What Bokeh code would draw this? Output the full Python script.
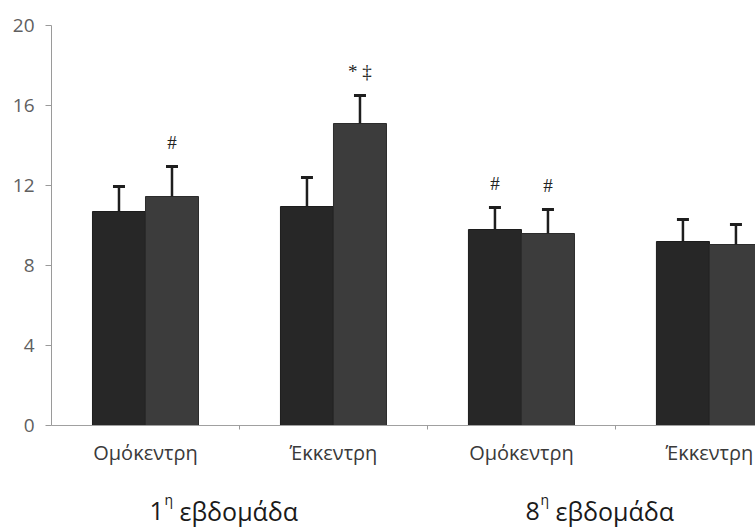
from bokeh.plotting import figure
from bokeh.layouts import column
from bokeh.models import Range1d, FixedTicker, ColumnDataSource, Whisker, TeeHead
from bokeh.transform import dodge
from bokeh.core.properties import value
from bokeh.embed import file_html
from bokeh.resources import INLINE

# ---- data ----
categories = ["Ομόκεντρη", "Έκκεντρη", "Ομόκεντρη", "Έκκεντρη"]
weeks = ["1", "8"]                 # each week spans two categories
week_sup = ["η", "η"]
week_word = ["εβδομάδα", "εβδομάδα"]
series_a = [10.7, 10.95, 9.8, 9.2]     # dark bars
sd_a = [1.25, 1.45, 1.1, 1.1]
series_b = [11.45, 15.1, 9.6, 9.05]    # lighter bars
sd_b = [1.5, 1.4, 1.2, 1.0]
sig_a = ["", "", "#", ""]
sig_b = ["#", "* ‡", "#", ""]
y_ticks = [0, 4, 8, 12, 16, 20]

# ---- derived ----
xs = [i + 0.5 for i in range(len(categories))]
src = ColumnDataSource(dict(
    x=xs, a=series_a, b=series_b,
    a_up=[m + s for m, s in zip(series_a, sd_a)],
    b_up=[m + s for m, s in zip(series_b, sd_b)],
    sig_a=sig_a, sig_b=sig_b,
))
wsrc = ColumnDataSource(dict(
    x=[2 * i + 1.0 for i in range(len(weeks))],
    y=[0.0] * len(weeks),
    num=weeks, sup=week_sup, word=week_word,
))

BW = 0.282
xr = Range1d(0, 3.745)
p = figure(width=755, height=470, x_range=xr, y_range=Range1d(0, 20),
           output_backend="svg", toolbar_location=None,
           min_border_left=51, min_border_right=0, min_border_top=25, min_border_bottom=45)
p.outline_line_color = None
p.xgrid.visible = False
p.ygrid.visible = False

p.vbar(x=dodge("x", -BW / 2), top="a", width=BW, source=src,
       fill_color="#272727", line_color="#1c1c1c", line_width=1)
p.vbar(x=dodge("x", BW / 2), top="b", width=BW, source=src,
       fill_color="#3c3c3c", line_color="#2c2c2c", line_width=1)

for off, lo, up in [(-BW / 2, "a", "a_up"), (BW / 2, "b", "b_up")]:
    w = Whisker(base=dodge("x", off), lower=lo, upper=up, source=src, dimension="height",
                line_color="#1e1e1e", line_width=2.5, level="overlay",
                upper_head=TeeHead(size=12, line_width=3, line_color="#1e1e1e"),
                lower_head=None)
    p.add_layout(w)

for off, up, sig in [(-BW / 2, "a_up", "sig_a"), (BW / 2, "b_up", "sig_b")]:
    p.text(x=dodge("x", off), y=up, text=sig, source=src, y_offset=-24,
           text_align="center", text_baseline="middle",
           text_font=value("Liberation Serif"), text_font_size="19px", text_color="#222222")

# y axis
yax = p.yaxis[0]
yax.ticker = FixedTicker(ticks=y_ticks)
yax.minor_tick_line_color = None
yax.major_tick_out = 6
yax.major_tick_in = 0
yax.major_tick_line_color = "#9a9a9a"
yax.axis_line_color = "#9a9a9a"
yax.major_label_text_font = "Open Sans"
yax.major_label_text_font_size = "19px"
yax.major_label_text_color = "#606060"
yax.major_label_standoff = 11

# x axis
xax = p.xaxis[0]
xax.ticker = FixedTicker(ticks=xs, minor_ticks=list(range(1, len(categories))))
xax.major_label_overrides = {x: c for x, c in zip(xs, categories)}
xax.major_tick_line_color = None
xax.minor_tick_line_color = "#9a9a9a"
xax.minor_tick_out = 4
xax.minor_tick_in = 0
xax.axis_line_color = "#a0a0a0"
xax.major_label_text_font = "Open Sans"
xax.major_label_text_font_size = "20px"
xax.major_label_text_color = "#3a3a3a"
xax.major_label_standoff = 7

# strip below for the week labels (number + superscript η + word)
p2 = figure(width=755, height=62, x_range=xr, y_range=Range1d(0, 1),
            output_backend="svg", toolbar_location=None,
            min_border_left=51, min_border_right=0, min_border_top=0, min_border_bottom=0)
p2.axis.visible = False
p2.xgrid.visible = False
p2.ygrid.visible = False
p2.outline_line_color = None
common = dict(source=wsrc, y="y", text_align="left", text_baseline="alphabetic",
              text_font=value("Open Sans"), text_color="#1a1a1a")
p2.text(x="x", text="num", x_offset=-90, y_offset=-22, text_font_size="25px", **common)
p2.text(x="x", text="sup", x_offset=-75, y_offset=-33, text_font_size="14px", **common)
p2.text(x="x", text="word", x_offset=-60, y_offset=-22, text_font_size="25px", **common)

layout = column(p, p2, spacing=0)
open("out.html", "w").write(file_html(layout, INLINE))
